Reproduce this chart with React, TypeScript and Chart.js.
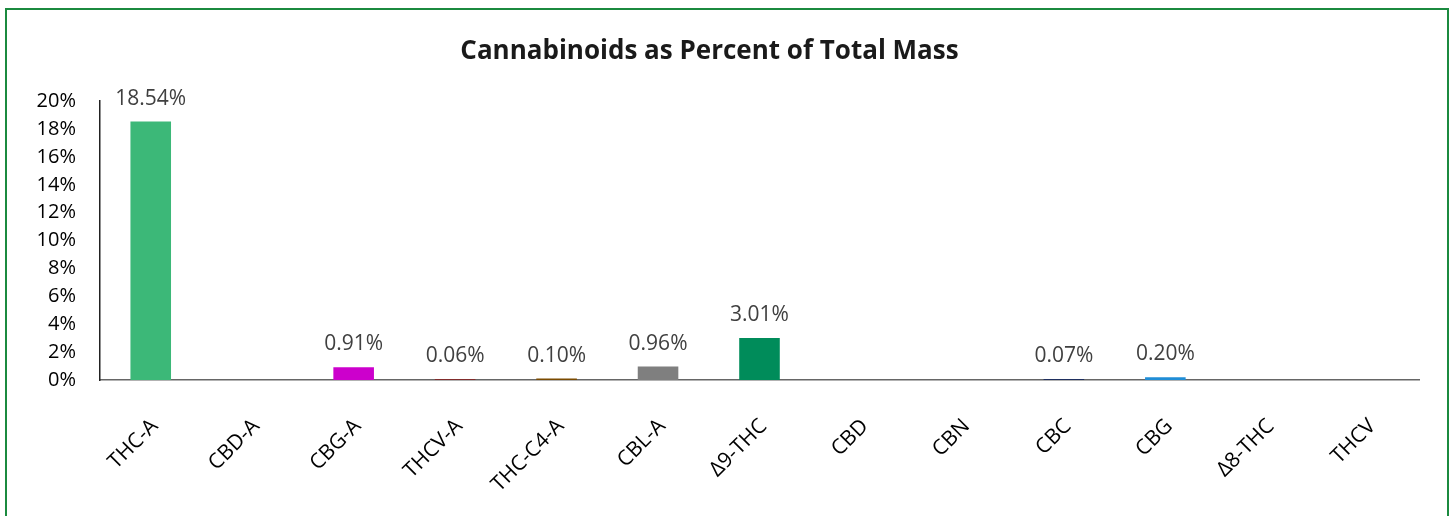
import React, { useEffect, useRef } from "react";
import { Chart, registerables } from "chart.js";

Chart.register(...registerables);

const categories = ["THC-A", "CBD-A", "CBG-A", "THCV-A", "THC-C4-A", "CBL-A", "Δ9-THC", "CBD", "CBN", "CBC", "CBG", "Δ8-THC", "THCV"];
const values = [18.54, 0, 0.91, 0.06, 0.1, 0.96, 3.01, 0, 0, 0.07, 0.2, 0, 0];
const barColors = ["#3cb878", "#3cb878", "#cc00cc", "#8b1a1a", "#7a4a00", "#7f7f7f", "#008c5a", "#333333", "#333333", "#1f2f5f", "#1f8dd6", "#333333", "#333333"];
const yTicks = [0, 2, 4, 6, 8, 10, 12, 14, 16, 18, 20];
const title = "Cannabinoids as Percent of Total Mass";

const FONT = "'Open Sans', 'Liberation Sans', sans-serif";

const valueLabels = {
  id: "valueLabels",
  afterDatasetsDraw(chart: any) {
    const ctx = chart.ctx;
    const meta = chart.getDatasetMeta(0);
    ctx.save();
    ctx.font = `21px ${FONT}`;
    ctx.fillStyle = "#404040";
    ctx.textAlign = "center";
    ctx.textBaseline = "alphabetic";
    meta.data.forEach((bar: any, i: number) => {
      const v = values[i];
      if (!v) return;
      ctx.fillText(v.toFixed(2) + "%", bar.x, bar.y - 17);
    });
    ctx.restore();
  },
};

export default function App() {
  const ref = useRef<HTMLCanvasElement>(null);
  useEffect(() => {
    if (!ref.current) return;
    const chart = new Chart(ref.current, {
      type: "bar",
      data: {
        labels: categories,
        datasets: [
          {
            data: values,
            backgroundColor: barColors,
            barPercentage: 0.4,
            categoryPercentage: 1,
          },
        ],
      },
      options: {
        animation: false,
        responsive: false,
        maintainAspectRatio: false,
        layout: { padding: { left: 0, right: 34, top: 0, bottom: 0 } },
        plugins: {
          legend: { display: false },
          tooltip: { enabled: false },
          title: {
            display: true,
            text: title,
            color: "#1a1a1a",
            font: { family: FONT, size: 26, weight: "bold", lineHeight: 1.2 },
            padding: { top: 36, bottom: 34 },
          },
        },
        scales: {
          x: {
            grid: { display: false },
            border: { display: true, color: "#666666", width: 1.5 },
            ticks: {
              color: "#000000",
              font: { family: FONT, size: 21 },
              minRotation: 45,
              maxRotation: 45,
              padding: 26,
              labelOffset: 4,
              autoSkip: false,
            },
            afterFit(scale: any) {
              scale.height = 136;
            },
          },
          y: {
            min: 0,
            max: 20,
            afterBuildTicks(scale: any) {
              scale.ticks = yTicks.map((v) => ({ value: v }));
            },
            grid: { display: false, drawTicks: false },
            border: { display: true, color: "#222222", width: 1.5 },
            ticks: {
              color: "#000000",
              font: { family: FONT, size: 20 },
              padding: 24,
              callback: (v: any) => v + "%",
            },
            afterFit(scale: any) {
              scale.width = 100;
            },
          },
        },
      },
      plugins: [valueLabels],
    });
    return () => chart.destroy();
  }, []);

  return (
    <div style={{ position: "fixed", left: 0, top: 0, width: 1453, height: 516, background: "#ffffff", overflow: "hidden" }}>
      <div
        style={{
          position: "absolute",
          left: 5,
          top: 8,
          width: 1440,
          height: 520,
          border: "2px solid #1b8a3f",
          boxSizing: "content-box",
        }}
      />
      <canvas ref={ref} width={1453} height={516} style={{ position: "absolute", left: 0, top: 0, width: 1453, height: 516 }} />
    </div>
  );
}
